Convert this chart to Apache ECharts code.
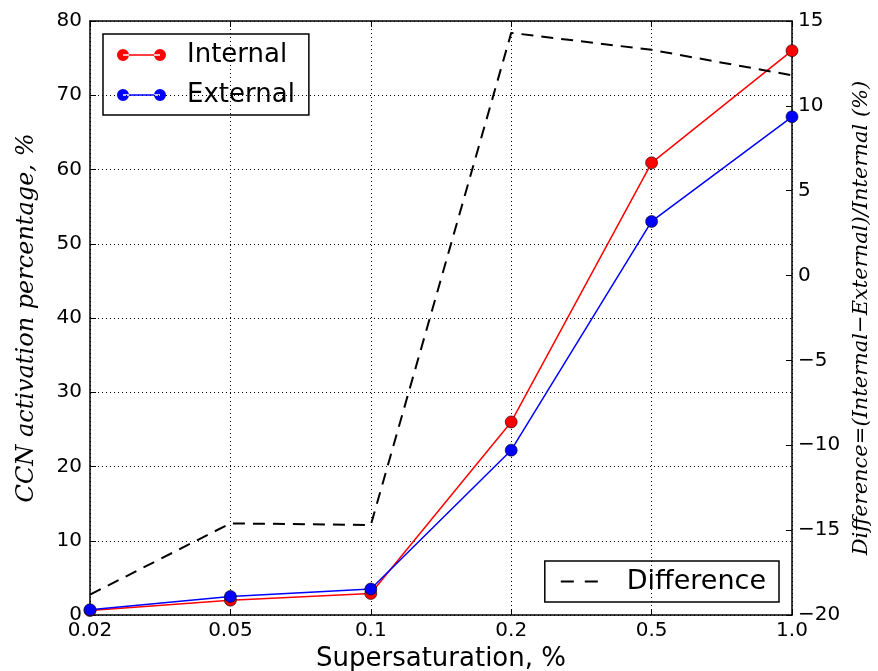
<!DOCTYPE html>
<html>
<head>
<meta charset="utf-8">
<script src="https://cdn.jsdelivr.net/npm/echarts@6/dist/echarts.min.js"></script>
<style>html,body{margin:0;padding:0;background:#fff}#c{width:878px;height:671px}</style>
</head>
<body>
<div id="c"></div>
<script>
const categories = ['0.02', '0.05', '0.1', '0.2', '0.5', '1.0'];
const internalVals = [0.6, 2.0, 2.9, 26.0, 60.9, 76.0];
const externalVals = [0.7, 2.5, 3.5, 22.2, 53.0, 67.1];
const differenceVals = [-18.8, -14.6, -14.7, 14.3, 13.3, 11.8];
const leftTicks = {min: 0, max: 80, interval: 10};
const rightTicks = {min: -20, max: 15, interval: 5};

const chart = echarts.init(document.getElementById('c'), null, {renderer: 'canvas'});
const fnt = 'DejaVu Sans';
const minus = v => v < 0 ? '\u2212' + Math.abs(v) : String(v);
const lineIcon = 'path://M0,6a6,6 0 1,0 12,0a6,6 0 1,0 -12,0Z M37,6a6,6 0 1,0 12,0a6,6 0 1,0 -12,0Z M6,5.3L43,5.3L43,6.7L6,6.7Z';
const dashIcon = 'path://M0,0L13,0L13,2L0,2Z M24,0L37,0L37,2L24,2Z';

chart.setOption({
  animation: false,
  backgroundColor: '#fff',
  grid: {left: 90, right: 86, top: 21, bottom: 56, containLabel: false, outerBoundsMode: 'none'},
  legend: [
    {
      data: [{name: 'Internal', icon: lineIcon, itemStyle: {borderWidth: 0}},
             {name: 'External', icon: lineIcon, itemStyle: {borderWidth: 0}}],
      orient: 'vertical', left: 103, top: 34,
      itemWidth: 49, itemHeight: 13, itemGap: 14,
      padding: [8, 14, 7, 14],
      borderColor: '#000', borderWidth: 1.5, borderRadius: 0,
      textStyle: {fontFamily: fnt, fontSize: 26, lineHeight: 26, color: '#000', padding: [0, 0, 0, 16]}
    },
    {
      data: [{name: 'Difference', icon: dashIcon, itemStyle: {borderWidth: 0}}],
      orient: 'vertical', right: 99, bottom: 69,
      itemWidth: 37, itemHeight: 2,
      padding: [7, 13, 7, 16],
      borderColor: '#000', borderWidth: 1.5, borderRadius: 0,
      textStyle: {fontFamily: fnt, fontSize: 27, lineHeight: 27, color: '#000', padding: [0, 0, 0, 24]}
    }
  ],
  xAxis: [
    {
      type: 'category', data: categories, boundaryGap: false, position: 'bottom',
      name: 'Supersaturation, %', nameLocation: 'middle', nameGap: 30,
      nameTextStyle: {fontFamily: fnt, fontSize: 26, color: '#000'},
      axisLine: {onZero: false, lineStyle: {color: '#000', width: 1.5}},
      axisTick: {inside: true, length: 6, lineStyle: {color: '#000'}, alignWithLabel: true},
      axisLabel: {fontFamily: fnt, fontSize: 20, color: '#000', margin: 6},
      splitLine: {show: true, lineStyle: {color: '#000', type: [1, 3], width: 1}}
    },
    {
      type: 'category', data: categories, boundaryGap: false, position: 'top',
      axisLine: {onZero: false, lineStyle: {color: '#000', width: 1.5}},
      axisTick: {inside: true, length: 6, lineStyle: {color: '#000'}},
      axisLabel: {show: false}, splitLine: {show: false}
    }
  ],
  yAxis: [
    {
      type: 'value', position: 'left', ...leftTicks,
      name: 'CCN activation percentage, %', nameLocation: 'middle', nameGap: 51, nameRotate: 90,
      nameTextStyle: {fontFamily: 'DejaVu Serif', fontStyle: 'italic', fontSize: 24, color: '#000'},
      axisLine: {show: true, onZero: false, lineStyle: {color: '#000', width: 1.5}},
      axisTick: {show: true, inside: true, length: 6, lineStyle: {color: '#000'}},
      axisLabel: {fontFamily: fnt, fontSize: 20, color: '#000', margin: 8},
      splitLine: {show: true, lineStyle: {color: '#000', type: [1, 3], width: 1}}
    },
    {
      type: 'value', position: 'right', ...rightTicks,
      name: 'Difference=(Internal\u2212External)/Internal (%)', nameLocation: 'middle', nameGap: 57, nameRotate: 90,
      nameTextStyle: {fontFamily: 'DejaVu Serif', fontStyle: 'italic', fontSize: 21, color: '#000'},
      axisLine: {show: true, onZero: false, lineStyle: {color: '#000', width: 1.5}},
      axisTick: {show: true, inside: true, length: 6, lineStyle: {color: '#000'}},
      axisLabel: {fontFamily: fnt, fontSize: 20, color: '#000', margin: 6, formatter: minus},
      splitLine: {show: false}
    }
  ],
  series: [
    {
      name: 'Internal', type: 'line', data: internalVals, xAxisIndex: 0, yAxisIndex: 0,
      symbol: 'circle', symbolSize: 12,
      lineStyle: {color: '#ff0000', width: 1.5},
      itemStyle: {color: '#ff0000', borderColor: '#000', borderWidth: 0.6},
      z: 3
    },
    {
      name: 'External', type: 'line', data: externalVals, xAxisIndex: 0, yAxisIndex: 0,
      symbol: 'circle', symbolSize: 12,
      lineStyle: {color: '#0000ff', width: 1.5},
      itemStyle: {color: '#0000ff', borderColor: '#000', borderWidth: 0.6},
      z: 4
    },
    {
      name: 'Difference', type: 'line', data: differenceVals, xAxisIndex: 0, yAxisIndex: 1,
      symbol: 'none', showSymbol: false,
      lineStyle: {color: '#000', width: 2, type: [12, 8]},
      itemStyle: {color: '#000'},
      z: 5
    }
  ]
});
</script>
</body>
</html>
